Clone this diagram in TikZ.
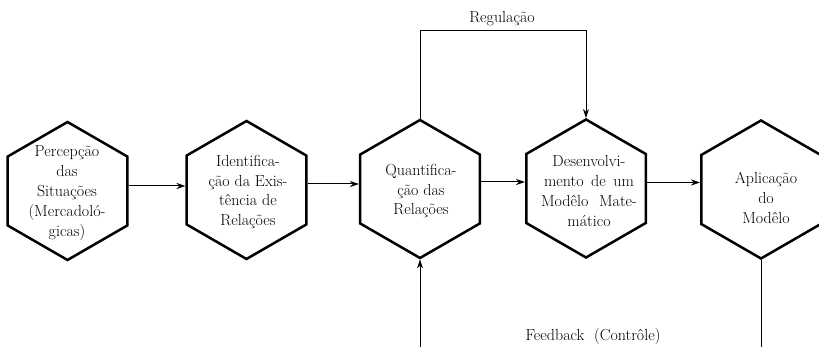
\documentclass[tikz,border=0pt]{standalone}
\usetikzlibrary{shapes.geometric,arrows.meta}
\begin{document}
\begin{tikzpicture}[x=1pt,y=-1pt,
  hexa/.style={regular polygon, regular polygon sides=6, shape border rotate=30,
    minimum size=138pt, inner sep=0pt, draw=black, line width=2.5pt},
  hextext/.style={align=center, inner sep=0pt, font=\fontsize{16}{19.8}\selectfont},
  conn/.style={draw=black, line width=1pt},
  arrow/.style={conn, -{Stealth[length=9pt,width=6pt]}},
  lbl/.style={inner sep=0pt, font=\fontsize{16}{19.8}\selectfont}]
\useasboundingbox[fill=white] (0,0) rectangle (819,347);

\node[hexa] (h1) at (67.5,191) {};
\node[hexa] (h2) at (246.5,190) {};
\node[hexa] (h3) at (420,189) {};
\node[hexa] (h4) at (586,188.5) {};
\node[hexa] (h5) at (761,189.5) {};

\node[hextext] (t1) at (67,193) {Percepção\\das\\Situações\\(Mercadoló-\\gicas)};
\node[hextext] (t2) at (248,192) {Identifica-\\ção da Exis-\\tência de\\Relações};
\node[hextext] (t3) at (421,191) {Quantifica-\\ção das\\Relações};
\node[hextext] (t4) at (589,191) {Desenvolvi-\\\makebox[90pt][s]{mento de um}\\\makebox[96pt][s]{Modêlo Mate-}\\mático};
\node[hextext] (t5) at (766,198) {Aplicação\\do\\Modêlo};

\draw[arrow] ([yshift=5pt]h1.east) -- ([yshift=5pt]h1.east -| h2.west);
\draw[arrow] ([yshift=6pt]h2.east) -- ([yshift=6pt]h2.east -| h3.west);
\draw[arrow] ([yshift=7pt]h3.east) -- ([yshift=7pt]h3.east -| h4.west);
\draw[arrow] ([yshift=6pt]h4.east) -- ([yshift=6pt]h4.east -| h5.west);

\coordinate (regy) at (0,31);
\draw[arrow] (h3.north) -- (h3.north |- regy) -| (h4.north);
\node[lbl] (reg) at (502,19) {Regulação};

\coordinate (fbL) at (420,347);
\coordinate (fbR) at (765,347);
\draw[arrow] (h3.south |- fbL) -- (h3.south);
\draw[conn] (h5.south) -- (h5.south |- fbR);
\node[lbl] (fb) at (593,337) {Feedback\ \ (Contrôle)};
\end{tikzpicture}
\end{document}
